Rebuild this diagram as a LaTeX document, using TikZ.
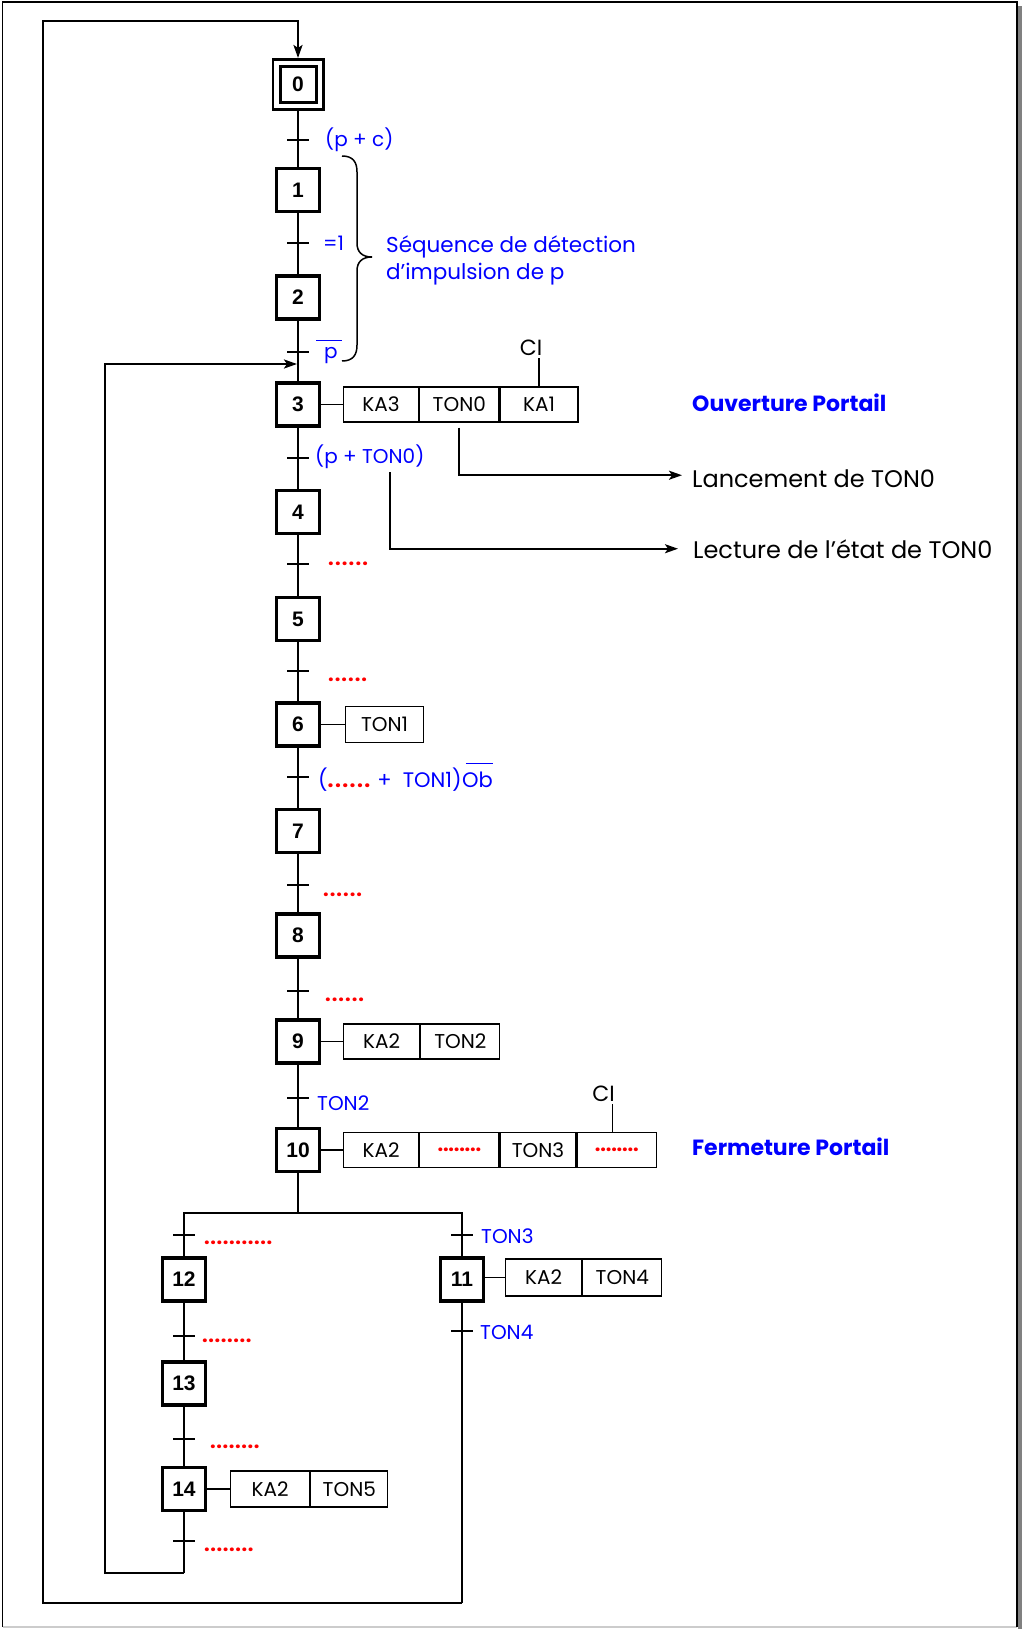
\documentclass[tikz,border=0pt]{standalone}
\usepackage{fontspec}
\setmainfont{Poppins}
\newfontfamily\chiffres{Liberation Sans}
\usetikzlibrary{arrows.meta}

\newcommand{\pointilles}[2][1pt]{{\bfseries\foreach \i in {1,...,#2}{.\kern#1}}}

\tikzset{
  etape/.style={draw, line width=3.3pt, minimum width=43.5pt, minimum height=43pt, inner sep=0pt, font=\chiffres\bfseries\fontsize{21}{21}\selectfont},
  action/.style={draw, line width=1.2pt, minimum height=35pt, inner sep=0pt, anchor=west, font=\fontsize{20}{20}\selectfont},
  lien/.style={line width=1.4pt},
  boucle/.style={line width=2.4pt},
  fleche/.style={-{Stealth[length=13pt,width=9pt,inset=3pt]}},
  recept/.style={text=blue, anchor=base west, inner sep=0pt, font=\fontsize{20}{20}\selectfont},
  rouge/.style={text=red, anchor=base west, inner sep=0pt, font=\fontsize{20}{20}\selectfont},
  titre/.style={text=blue, anchor=base west, inner sep=0pt, font=\bfseries\fontsize{22}{22}\selectfont},
  note/.style={anchor=base west, inner sep=0pt, font=\fontsize{24}{24}\selectfont}
}

\begin{document}
\begin{tikzpicture}[x=1pt,y=-1pt]
  \useasboundingbox (0,0) rectangle (1022,1629);
  % cadre
  \fill[gray] (1018,6) rectangle (1022,1629);
  \draw[gray!40, line width=1.5pt] (2.5,1627) -- (1017,1627);
  \draw[line width=1.5pt] (2.5,1627) -- (2.5,2) -- (1017,2) -- (1017,1627);

  % etapes
  \node[etape, line width=3pt, minimum width=36pt, minimum height=36pt] (s0) at (298,84.5) {0};
  \node[draw, line width=2.7pt, minimum width=50.3pt, minimum height=50.3pt, inner sep=0pt] (s0ext) at (298,84.5) {};
  \node[etape] (s1) at (298,190) {1};
  \node[etape] (s2) at (298,297.5) {2};
  \node[etape] (s3) at (298,404.5) {3};
  \node[etape] (s4) at (298,512) {4};
  \node[etape] (s5) at (298,619) {5};
  \node[etape] (s6) at (298,724.5) {6};
  \node[etape] (s7) at (298,831) {7};
  \node[etape] (s8) at (298,935.5) {8};
  \node[etape] (s9) at (298,1041.5) {9};
  \node[etape] (s10) at (298,1150) {10};
  \node[etape] (s12) at (184,1279.5) {12};
  \node[etape] (s11) at (462,1279.5) {11};
  \node[etape] (s13) at (184,1383.5) {13};
  \node[etape] (s14) at (184,1489) {14};

  \coordinate (div) at (298,1213);
  \coordinate (c14bas) at (184,1573);
  \coordinate (cg) at (105,364);
  \coordinate (ret3) at (297,364);
  \coordinate (c11bas) at (462,1603);
  \coordinate (chaut) at (43,21);

  % liaisons
  \draw[lien] (s0ext) -- (s1) -- (s2) -- (s3) -- (s4) -- (s5) -- (s6) -- (s7) -- (s8) -- (s9) -- (s10) -- (div);
  \draw[lien] (s12) |- (div) -| (s11);
  \draw[lien] (s12) -- (s13) -- (s14) -- (c14bas);
  \draw[lien] (s11) -- (c11bas);
  \draw[boucle,fleche] (c14bas) -| (cg) -- (ret3);
  \draw[boucle,fleche] (c11bas) -| (chaut) -| (s0ext.north);

  % transitions
  \draw[lien] (287,140) -- (309,140);
  \draw[lien] (287,243) -- (309,243);
  \draw[lien] (287,352) -- (309,352);
  \draw[lien] (287,458) -- (309,458);
  \draw[lien] (287,564) -- (309,564);
  \draw[lien] (287,671) -- (309,671);
  \draw[lien] (287,777) -- (309,777);
  \draw[lien] (287,885) -- (309,885);
  \draw[lien] (287,991) -- (309,991);
  \draw[lien] (287,1098) -- (309,1098);
  \draw[lien] (173,1235) -- (195,1235);
  \draw[lien] (451,1235) -- (473,1235);
  \draw[lien] (451,1331) -- (473,1331);
  \draw[lien] (173,1336) -- (195,1336);
  \draw[lien] (173,1439) -- (195,1439);
  \draw[lien] (173,1541) -- (195,1541);

  % receptivites
  \node[recept] (r01) at (325,147) {(p + c)};
  \node[recept] (r12) at (323,251) {=1};
  \node[recept] (r23) at (324,358) {p};
  \draw[blue, line width=1.3pt] ([shift={(-8pt,6pt)}]r23.north west) -- ([shift={(4pt,6pt)}]r23.north east);
  \node[recept] (r34) at (315,463) {(p + TON0)};
  \node[rouge] (p45) at (328,565) {\pointilles[1.2pt]{6}};
  \node[rouge] (p56) at (328,681) {\pointilles{6}};
  \node[recept, font=\fontsize{21}{21}\selectfont] (r67) at (318,787) {(\textcolor{red}{\pointilles[1.4pt]{6}}\ +\ \ TON1)};
  \node[recept, font=\fontsize{21}{21}\selectfont] (ob) at (r67.base east) {Ob};
  \draw[blue, line width=1.3pt] ([shift={(4pt,8pt)}]ob.north west) -- ([yshift=8pt]ob.north east);
  \node[rouge] (p78) at (323,896) {\pointilles{6}};
  \node[rouge] (p89) at (325,1001) {\pointilles{6}};
  \node[recept] (r910) at (317,1110) {TON2};
  \node[rouge] (p1012) at (204,1244) {\pointilles[0.6pt]{11}};
  \node[recept] (r1011) at (481,1243) {TON3};
  \node[recept] (r11) at (480,1339) {TON4};
  \node[rouge] (p1213) at (202,1342) {\pointilles[0.6pt]{8}};
  \node[rouge] (p1314) at (210,1448) {\pointilles[0.6pt]{8}};
  \node[rouge] (p14) at (204,1551) {\pointilles[0.6pt]{8}};

  % accolade
  \draw[line width=1.5pt] (342,156) .. controls (353,156) and (357,162) .. (357,172) -- (357,243)
    .. controls (357,252) and (362,257) .. (372,257) .. controls (362,257) and (357,262) .. (357,271)
    -- (357,345) .. controls (357,355) and (353,361) .. (342,361);
  \node[recept, font=\fontsize{21.5}{21.5}\selectfont] (seq1) at (386,252) {Séquence de détection};
  \node[recept, font=\fontsize{21.5}{21.5}\selectfont] (seq2) at (386,279) {d’impulsion de p};

  % actions
  \node[action, minimum width=75pt] (a3a) at (343,404.5) {KA3};
  \node[action, minimum width=79pt] (a3b) at (a3a.east) {TON0};
  \node[action, minimum width=78pt] (a3c) at (a3b.east) {KA1};
  \draw[lien] (s3) -- (a3a);
  \node[note, anchor=base, font=\fontsize{22}{22}\selectfont] (ci3) at (531,355) {CI};
  \draw[lien, shorten >=3pt] (a3c.north) -- (a3c.north |- ci3.south);

  \node[action, minimum width=78pt, minimum height=36pt] (a6) at (345,724.5) {TON1};
  \draw[lien] (s6) -- (a6);

  \node[action, minimum width=76pt] (a9a) at (343,1041.5) {KA2};
  \node[action, minimum width=79pt] (a9b) at (a9a.east) {TON2};
  \draw[lien] (s9) -- (a9a);

  \node[action, minimum width=75pt] (a10a) at (343,1150) {KA2};
  \node[action, minimum width=79pt] (a10b) at (a10a.east) {\textcolor{red}{\pointilles[-0.2pt]{8}}};
  \node[action, minimum width=76pt] (a10c) at (a10b.east) {TON3};
  \node[action, minimum width=79pt] (a10d) at (a10c.east) {\textcolor{red}{\pointilles[-0.2pt]{8}}};
  \draw[lien] (s10) -- (a10a);
  \node[note, anchor=base, font=\fontsize{22}{22}\selectfont] (ci10) at (603.5,1101) {CI};
  \draw[lien, shorten >=3pt] ([xshift=-4pt]a10d.north) -- ([xshift=-4pt]a10d.north |- ci10.south);

  \node[action, minimum width=76pt, minimum height=37pt] (a11a) at (505,1277.5) {KA2};
  \node[action, minimum width=79pt, minimum height=37pt] (a11b) at (a11a.east) {TON4};
  \draw[lien] (s11.east |- a11a.west) -- (a11a.west);

  \node[action, minimum width=79pt, minimum height=36pt] (a14a) at (230,1489) {KA2};
  \node[action, minimum width=77pt, minimum height=36pt] (a14b) at (a14a.east) {TON5};
  \draw[lien] (s14) -- (a14a);

  % commentaires
  \node[titre] (ouv) at (692,411) {Ouverture Portail};
  \node[titre] (ferm) at (692,1155) {Fermeture Portail};
  \node[note] (lanc) at (692,487) {Lancement de TON0};
  \node[note] (lect) at (693,558) {Lecture de l’état de TON0};
  \coordinate (lect0) at (390,472);
  \draw[line width=2pt,fleche,shorten >=10pt] ([yshift=-5pt]a3b.south) |- ([yshift=3pt]lanc.west);
  \draw[line width=2pt,fleche,shorten >=15pt] (lect0) |- (lect.west);
\end{tikzpicture}
\end{document}
